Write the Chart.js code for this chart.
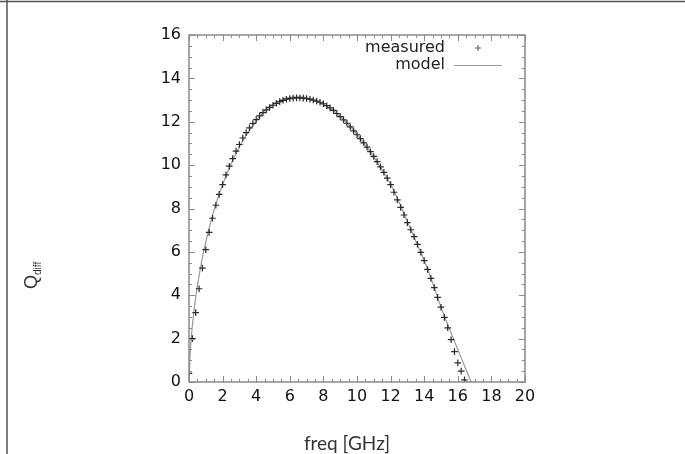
<!DOCTYPE html>
<html>
<head>
<meta charset="utf-8">
<script src="https://cdn.jsdelivr.net/npm/chart.js@4.4.1/dist/chart.umd.min.js"></script>
<style>
  html, body { margin: 0; padding: 0; background: #fff; }
  #wrap { position: relative; width: 685px; height: 454px; }
</style>
</head>
<body>
<div id="wrap"><canvas id="qChart" width="685" height="454"></canvas></div>
<script>
// measured points (+)
var freqMeasured = [0.0, 0.2, 0.4, 0.6, 0.8, 1.0, 1.2, 1.4, 1.6, 1.8,
    2.0, 2.2, 2.4, 2.6, 2.8, 3.0, 3.2, 3.4, 3.6, 3.8,
    4.0, 4.2, 4.4, 4.6, 4.8, 5.0, 5.2, 5.4, 5.6, 5.8,
    6.0, 6.2, 6.4, 6.6, 6.8, 7.0, 7.2, 7.4, 7.6, 7.8,
    8.0, 8.2, 8.4, 8.6, 8.8, 9.0, 9.2, 9.4, 9.6, 9.8,
    10.0, 10.2, 10.4, 10.6, 10.8, 11.0, 11.2, 11.4, 11.6, 11.8,
    12.0, 12.2, 12.4, 12.6, 12.8, 13.0, 13.2, 13.4, 13.6, 13.8,
    14.0, 14.2, 14.4, 14.6, 14.8, 15.0, 15.2, 15.4, 15.6, 15.8,
    16.0, 16.2, 16.4];
var qMeasured = [0.4, 2.0, 3.2, 4.3, 5.25, 6.1, 6.9, 7.55, 8.15, 8.65,
    9.1, 9.55, 9.95, 10.3, 10.65, 10.95, 11.25, 11.5, 11.72, 11.92,
    12.1, 12.27, 12.42, 12.55, 12.66, 12.76, 12.85, 12.93, 12.99, 13.04,
    13.07, 13.09, 13.1, 13.1, 13.09, 13.07, 13.04, 13.0, 12.95, 12.9,
    12.83, 12.74, 12.64, 12.52, 12.38, 12.24, 12.09, 11.93, 11.76, 11.58,
    11.4, 11.22, 11.03, 10.83, 10.62, 10.4, 10.16, 9.92, 9.67, 9.4,
    9.1, 8.75, 8.4, 8.05, 7.7, 7.35, 7.02, 6.7, 6.35, 5.98,
    5.6, 5.19, 4.78, 4.35, 3.9, 3.45, 2.98, 2.5, 1.95, 1.4,
    0.88, 0.5, 0.1];

// model curve (solid grey)
var freqModel = [0.0, 0.05, 0.1, 0.2, 0.3, 0.4, 0.6, 0.8, 1.0, 1.25,
    1.5, 1.75, 2.0, 2.5, 3.0, 3.5, 4.0, 4.5, 5.0, 5.5,
    6.0, 6.5, 7.0, 7.5, 8.0, 8.5, 9.0, 9.5, 10.0, 10.5,
    11.0, 11.5, 12.0, 12.5, 13.0, 13.5, 14.0, 14.5, 15.0, 15.5,
    16.0, 16.5, 16.8];
var qModel = [0.0, 1.0, 1.7, 2.6, 3.3, 3.9, 4.9, 5.75, 6.45, 7.25,
    7.95, 8.55, 9.1, 10.05, 10.85, 11.5, 12.05, 12.5, 12.8, 13.0,
    13.12, 13.15, 13.1, 12.97, 12.8, 12.57, 12.25, 11.87, 11.42, 10.92,
    10.38, 9.78, 9.12, 8.3, 7.4, 6.5, 5.6, 4.58, 3.45, 2.45,
    1.5, 0.55, 0.0];

var seriesLabels = ['measured', 'model'];
var xTitle = 'freq [GHz]';
var yTitle = 'Q';
var yTitleSub = 'diff';

function toPoints(xs, ys) {
    return xs.map(function(x, i) { return { x: x, y: ys[i] }; });
}

var TICK_FAMILY = '"DejaVu Sans", "Liberation Sans", sans-serif';
var AXIS_GREY = '#8a8a8a';

// gnuplot style: closed box, inward major/minor ticks, legend inside, axis titles
var gnuplotFrame = {
    id: 'gnuplotFrame',
    afterDraw: function(chart) {
        var ctx = chart.ctx;
        var a = chart.chartArea;
        var xs = chart.scales.x, ys = chart.scales.y;
        ctx.save();

        // page frame lines
        ctx.strokeStyle = '#555';
        ctx.lineWidth = 1.5;
        ctx.beginPath();
        ctx.moveTo(0, 1.5); ctx.lineTo(685, 1.5);
        ctx.moveTo(7, 0); ctx.lineTo(7, 454);
        ctx.stroke();

        // plot box
        ctx.strokeStyle = AXIS_GREY;
        ctx.lineWidth = 1.5;
        ctx.strokeRect(a.left, a.top, a.right - a.left, a.bottom - a.top);

        ctx.lineWidth = 1;
        ctx.beginPath();
        var v, px, len;
        for (v = xs.min; v <= xs.max + 1e-9; v += 0.5) {
            px = Math.round(xs.getPixelForValue(v)) + 0.5;
            len = (Math.abs(v % 2) < 1e-9) ? 6 : 3;
            ctx.moveTo(px, a.bottom); ctx.lineTo(px, a.bottom - len);
            ctx.moveTo(px, a.top); ctx.lineTo(px, a.top + len);
        }
        for (v = ys.min; v <= ys.max + 1e-9; v += 0.5) {
            px = Math.round(ys.getPixelForValue(v)) + 0.5;
            len = (Math.abs(v % 2) < 1e-9) ? 6 : 3;
            ctx.moveTo(a.left, px); ctx.lineTo(a.left + len, px);
            ctx.moveTo(a.right, px); ctx.lineTo(a.right - len, px);
        }
        ctx.stroke();

        // legend
        var ds = chart.data.datasets;
        ctx.font = '16px ' + TICK_FAMILY;
        ctx.fillStyle = '#222';
        ctx.textAlign = 'right';
        ctx.textBaseline = 'middle';
        ctx.fillText(ds[0].label, 445, 48);
        ctx.fillText(ds[1].label, 445, 65);
        ctx.strokeStyle = '#555';
        ctx.beginPath();
        ctx.moveTo(475, 48); ctx.lineTo(481, 48);
        ctx.moveTo(478, 45); ctx.lineTo(478, 51);
        ctx.stroke();
        ctx.strokeStyle = '#999';
        ctx.lineWidth = 1.2;
        ctx.beginPath();
        ctx.moveTo(454, 65.5); ctx.lineTo(502, 65.5);
        ctx.stroke();

        // x title
        ctx.fillStyle = '#333';
        ctx.font = '19px Lato, "Open Sans", sans-serif';
        ctx.textAlign = 'center';
        ctx.textBaseline = 'alphabetic';
        ctx.fillText(xTitle, 347, 450);

        // y title, rotated, with subscript
        ctx.translate(37, 289);
        ctx.rotate(-Math.PI / 2);
        ctx.textAlign = 'left';
        ctx.font = '18px "Liberation Sans", Arial, sans-serif';
        ctx.fillText(yTitle, 0, 0);
        var qw = ctx.measureText(yTitle).width;
        ctx.font = '10px "Liberation Sans", Arial, sans-serif';
        ctx.fillText(yTitleSub, qw, 4);

        ctx.restore();
    }
};

var qChart = new Chart(document.getElementById('qChart'), {
    type: 'scatter',
    data: {
        datasets: [{
            label: seriesLabels[0],
            data: toPoints(freqMeasured, qMeasured),
            pointStyle: 'cross',
            pointRadius: 3.3,
            pointHoverRadius: 3.3,
            borderColor: '#2a2a2a',
            backgroundColor: '#2a2a2a',
            borderWidth: 1.2,
            showLine: false,
            order: 1
        }, {
            label: seriesLabels[1],
            data: toPoints(freqModel, qModel),
            showLine: true,
            pointRadius: 0,
            borderColor: '#999',
            borderWidth: 1.2,
            cubicInterpolationMode: 'monotone',
            fill: false,
            order: 2
        }]
    },
    options: {
        responsive: false,
        animation: false,
        layout: { padding: { left: 0, right: 160, top: 35, bottom: 0 } },
        plugins: {
            legend: { display: false },
            tooltip: { enabled: false }
        },
        scales: {
            x: {
                type: 'linear',
                min: 0,
                max: 20,
                ticks: { stepSize: 2, color: '#111', font: { family: TICK_FAMILY, size: 16 }, padding: 5, maxRotation: 0 },
                grid: { display: false, drawTicks: false },
                border: { display: false },
                afterFit: function(scale) { scale.height = 72; }
            },
            y: {
                type: 'linear',
                min: 0,
                max: 16,
                ticks: { stepSize: 2, color: '#111', font: { family: TICK_FAMILY, size: 16 }, padding: 8 },
                grid: { display: false, drawTicks: false },
                border: { display: false },
                afterFit: function(scale) { scale.width = 189; }
            }
        }
    },
    plugins: [gnuplotFrame]
});
</script>
</body>
</html>
